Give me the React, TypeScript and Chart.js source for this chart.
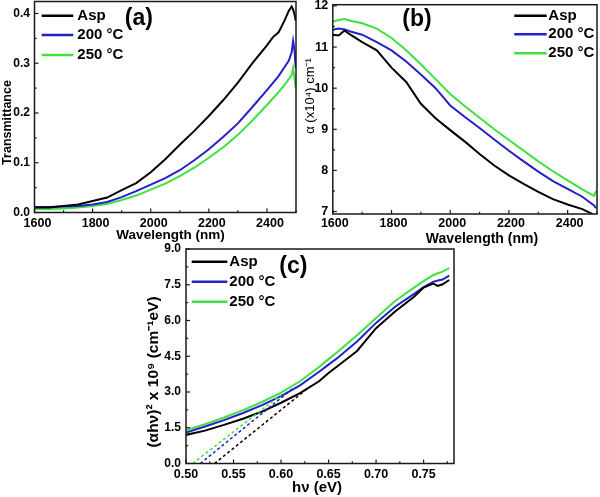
import { useEffect, useRef } from 'react';
import { Chart, registerables } from 'chart.js';

Chart.register(...registerables);

const FONT = '"Liberation Sans", Arial, Helvetica, sans-serif';
const SERIES = ['Asp', '200 °C', '250 °C'];
const COLORS = ['#000000', '#2222c8', '#3fe03f'];

// ---------- (a) Transmittance vs wavelength ----------
const aWavelength = [1600, 1650, 1700, 1750, 1800, 1850, 1900, 1950, 2000, 2050, 2100, 2150, 2200, 2250, 2300, 2350, 2400, 2420, 2440, 2460, 2475, 2485, 2490, 2495, 2499];
const aAsp = [0.010, 0.010, 0.013, 0.016, 0.023, 0.030, 0.045, 0.059, 0.081, 0.107, 0.136, 0.164, 0.194, 0.226, 0.261, 0.300, 0.336, 0.352, 0.362, 0.385, 0.405, 0.414, 0.408, 0.398, 0.385];
const a200 = [0.011, 0.011, 0.012, 0.013, 0.016, 0.021, 0.031, 0.043, 0.056, 0.069, 0.085, 0.105, 0.127, 0.152, 0.179, 0.212, 0.246, 0.260, 0.274, 0.292, 0.305, 0.322, 0.345, 0.325, 0.290];
const a250 = [0.007, 0.007, 0.008, 0.010, 0.013, 0.017, 0.025, 0.034, 0.046, 0.058, 0.073, 0.090, 0.110, 0.131, 0.156, 0.185, 0.216, 0.229, 0.242, 0.256, 0.268, 0.276, 0.290, 0.270, 0.250];

// ---------- (b) Absorption coefficient vs wavelength ----------
const bWavelength = [1600, 1620, 1640, 1660, 1700, 1750, 1800, 1850, 1900, 1950, 2000, 2050, 2100, 2150, 2200, 2250, 2300, 2350, 2400, 2450, 2490, 2497];
const bAsp = [11.30, 11.28, 11.40, 11.30, 11.12, 10.92, 10.50, 10.15, 9.62, 9.27, 8.98, 8.70, 8.40, 8.12, 7.88, 7.67, 7.48, 7.30, 7.17, 7.06, 6.92, 6.88];
const b200 = [11.42, 11.45, 11.43, 11.38, 11.30, 11.12, 10.92, 10.65, 10.33, 10.00, 9.58, 9.30, 9.03, 8.75, 8.48, 8.22, 7.97, 7.74, 7.55, 7.36, 7.15, 7.08];
const b250 = [11.62, 11.66, 11.68, 11.64, 11.58, 11.45, 11.22, 10.92, 10.58, 10.22, 9.86, 9.56, 9.28, 9.00, 8.74, 8.48, 8.22, 7.98, 7.76, 7.54, 7.38, 7.50];

// ---------- (c) Tauc plot ----------
const cEnergy = [0.50, 0.52, 0.54, 0.56, 0.58, 0.60, 0.62, 0.64, 0.65, 0.66, 0.68, 0.70, 0.72, 0.74, 0.75, 0.76, 0.765, 0.77, 0.777];
const cAsp = [1.20, 1.38, 1.62, 1.88, 2.18, 2.55, 2.95, 3.45, 3.80, 4.10, 4.72, 5.68, 6.38, 7.00, 7.38, 7.55, 7.45, 7.52, 7.70];
const c200 = [1.30, 1.55, 1.82, 2.12, 2.45, 2.83, 3.28, 3.85, 4.15, 4.45, 5.12, 5.90, 6.58, 7.12, 7.40, 7.62, 7.68, 7.72, 7.88];
const c250 = [1.40, 1.65, 1.93, 2.24, 2.58, 2.97, 3.45, 4.05, 4.38, 4.70, 5.38, 6.10, 6.82, 7.38, 7.65, 7.90, 7.98, 8.05, 8.20];
// linear extrapolations (dashed)
const cFitAspX = [0.530, 0.628];
const cFitAspY = [0, 3.15];
const cFit200X = [0.515, 0.614];
const cFit200Y = [0, 3.20];
const cFit250X = [0.507, 0.603];
const cFit250Y = [0, 2.97];

const zip = (xs: number[], ys: number[]) => xs.map((x, i) => ({ x, y: ys[i] }));

const solid = (i: number, xs: number[], ys: number[]) => ({
  label: SERIES[i],
  data: zip(xs, ys),
  borderColor: COLORS[i],
  borderWidth: 2,
  pointRadius: 0,
  tension: 0,
  fill: false,
  legend: true,
});
const dashed = (i: number, xs: number[], ys: number[]) => ({
  label: SERIES[i] + ' fit',
  data: zip(xs, ys),
  borderColor: COLORS[i],
  borderWidth: 1.5,
  borderDash: [3, 2.5],
  pointRadius: 0,
  tension: 0,
  fill: false,
  legend: false,
});

type AxisCfg = { min: number; max: number; major: number; minor: number; decimals: number; size: number; pad: number; box: number; labelOffset?: number };
type TitleCfg = { text: string; x: number; y: number; rot: boolean; size: number; bold: boolean };
type PanelCfg = {
  id: string; left: number; top: number; w: number; h: number;
  padding: { left: number; top: number; right: number; bottom: number };
  x: AxisCfg; y: AxisCfg; datasets: any[];
  legend: { x1: number; x2: number; tx: number; rows: number[] };
  tag: { text: string; x: number; y: number };
  titles: TitleCfg[];
};

const PANELS: PanelCfg[] = [
  {
    id: 'a', left: 0, top: 0, w: 300, h: 250,
    padding: { left: 0, top: 1.5, right: 4, bottom: 0 },
    x: { min: 1600, max: 2500, major: 200, minor: 100, decimals: 0, size: 12.5, pad: 3.4, box: 37.5, labelOffset: 3 },
    y: { min: 0, max: 0.424, major: 0.1, minor: 0.05, decimals: 1, size: 12, pad: 4.5, box: 34.5 },
    datasets: [solid(0, aWavelength, aAsp), solid(1, aWavelength, a200), solid(2, aWavelength, a250)],
    legend: { x1: 41.7, x2: 73.3, tx: 77.3, rows: [15.7, 35, 55] },
    tag: { text: '(a)', x: 138.8, y: 18.8 },
    titles: [
      { text: 'Wavelength (nm)', x: 170.5, y: 235.5, rot: false, size: 13.5, bold: true },
      { text: 'Transmittance', x: 7.5, y: 122.5, rot: true, size: 12.5, bold: true },
    ],
  },
  {
    id: 'b', left: 300, top: 0, w: 300, h: 250,
    padding: { left: 0, top: 4.7, right: 3, bottom: 0 },
    x: { min: 1600, max: 2500, major: 200, minor: 100, decimals: 0, size: 12.5, pad: 2, box: 36, labelOffset: 2 },
    y: { min: 6.94, max: 12.03, major: 1, minor: 0.5, decimals: 0, size: 12.5, pad: 4.5, box: 32.8 },
    datasets: [solid(0, bWavelength, bAsp), solid(1, bWavelength, b200), solid(2, bWavelength, b250)],
    legend: { x1: 214.3, x2: 246.7, tx: 248.3, rows: [15.7, 34.3, 53.3] },
    tag: { text: '(b)', x: 117, y: 20 },
    titles: [
      { text: 'Wavelength (nm)', x: 182, y: 239, rot: false, size: 14, bold: true },
      { text: 'α (x10⁴) cm⁻¹', x: 10, y: 96, rot: true, size: 13, bold: false },
    ],
  },
  {
    id: 'c', left: 140, top: 240, w: 320, h: 257,
    padding: { left: 0, top: 9, right: 6, bottom: 0 },
    x: { min: 0.5, max: 0.782, major: 0.05, minor: 0.025, decimals: 2, size: 12.5, pad: 4, box: 33.5 },
    y: { min: 0, max: 9, major: 1.5, minor: 0.75, decimals: 1, size: 12, pad: 5, box: 46 },
    datasets: [
      dashed(0, cFitAspX, cFitAspY), dashed(1, cFit200X, cFit200Y), dashed(2, cFit250X, cFit250Y),
      solid(0, cEnergy, cAsp), solid(1, cEnergy, c200), solid(2, cEnergy, c250),
    ],
    legend: { x1: 51.7, x2: 87.3, tx: 89.3, rows: [21.7, 41.7, 61.7] },
    tag: { text: '(c)', x: 153.3, y: 26.7 },
    titles: [
      { text: 'hν (eV)', x: 177, y: 248, rot: false, size: 15, bold: true },
      { text: '(αhν)² x 10⁹ (cm⁻¹eV)', x: 13.3, y: 132, rot: true, size: 15.5, bold: true },
    ],
  },
];

function axisOptions(a: AxisCfg, horizontal: boolean) {
  return {
    type: 'linear',
    min: a.min,
    max: a.max,
    grid: { display: false, drawTicks: false },
    border: { display: false },
    title: { display: false },
    ticks: {
      stepSize: a.major,
      includeBounds: false,
      autoSkip: false,
      maxRotation: 0,
      minRotation: 0,
      padding: a.pad,
      labelOffset: a.labelOffset || 0,
      color: '#000',
      font: { family: FONT, size: a.size, weight: 'bold' },
      callback: (v: any) => Number(v).toFixed(a.decimals),
    },
    afterFit: (s: any) => {
      if (horizontal) {
        s.height = a.box;
        s.paddingLeft = 0;
        s.paddingRight = 0;
      } else {
        s.width = a.box;
        s.paddingTop = 0;
        s.paddingBottom = 0;
      }
    },
  };
}

function drawTicks(ctx: CanvasRenderingContext2D, scale: any, a: AxisCfg, ca: any, horizontal: boolean) {
  const start = Math.ceil(a.min / a.minor - 1e-9);
  const end = Math.floor(a.max / a.minor + 1e-9);
  for (let i = start; i <= end; i++) {
    const v = i * a.minor;
    const r = v / a.major;
    const major = Math.abs(r - Math.round(r)) < 1e-6;
    const len = major ? 4 : 2.2;
    const p = scale.getPixelForValue(v);
    ctx.beginPath();
    if (horizontal) {
      ctx.moveTo(p, ca.bottom);
      ctx.lineTo(p, ca.bottom - len);
    } else {
      ctx.moveTo(ca.left, p);
      ctx.lineTo(ca.left + len, p);
    }
    ctx.stroke();
  }
}

function decor(p: PanelCfg) {
  return {
    id: 'decor' + p.id,
    afterDatasetsDraw(chart: any) {
      const { ctx, chartArea: ca, scales } = chart;
      ctx.save();
      ctx.strokeStyle = '#1a1a1a';
      ctx.lineWidth = 1.5;
      ctx.strokeRect(ca.left, ca.top, ca.right - ca.left, ca.bottom - ca.top);
      ctx.lineWidth = 1.2;
      drawTicks(ctx, scales.x, p.x, ca, true);
      drawTicks(ctx, scales.y, p.y, ca, false);

      // legend from datasets
      const entries = chart.data.datasets.filter((d: any) => d.legend);
      ctx.font = `bold 15px ${FONT}`;
      ctx.textBaseline = 'middle';
      ctx.textAlign = 'left';
      entries.forEach((d: any, i: number) => {
        const y = p.legend.rows[i];
        ctx.strokeStyle = d.borderColor;
        ctx.lineWidth = 2.5;
        ctx.beginPath();
        ctx.moveTo(p.legend.x1, y);
        ctx.lineTo(p.legend.x2, y);
        ctx.stroke();
        ctx.fillStyle = '#000';
        ctx.fillText(d.label, p.legend.tx, y);
      });

      // panel tag
      ctx.font = `bold 23px ${FONT}`;
      ctx.textAlign = 'center';
      ctx.fillStyle = '#000';
      ctx.fillText(p.tag.text, p.tag.x, p.tag.y);

      // axis titles
      p.titles.forEach((t) => {
        ctx.save();
        ctx.font = `${t.bold ? 'bold ' : ''}${t.size}px ${FONT}`;
        ctx.textAlign = 'center';
        ctx.textBaseline = 'middle';
        ctx.translate(t.x, t.y);
        if (t.rot) ctx.rotate(-Math.PI / 2);
        ctx.fillText(t.text, 0, 0);
        ctx.restore();
      });
      ctx.restore();
    },
  };
}

function Panel({ p }: { p: PanelCfg }) {
  const ref = useRef<HTMLCanvasElement>(null);
  useEffect(() => {
    const chart = new Chart(ref.current as HTMLCanvasElement, {
      type: 'line',
      data: { datasets: p.datasets },
      options: {
        responsive: false,
        maintainAspectRatio: false,
        animation: false,
        events: [],
        layout: { padding: p.padding, autoPadding: false },
        plugins: { legend: { display: false }, tooltip: { enabled: false }, title: { display: false } },
        scales: { x: axisOptions(p.x, true), y: axisOptions(p.y, false) },
      } as any,
      plugins: [decor(p)],
    } as any);
    return () => chart.destroy();
  }, [p]);
  return (
    <canvas
      ref={ref}
      width={p.w}
      height={p.h}
      style={{ position: 'absolute', left: p.left, top: p.top, width: p.w, height: p.h }}
    />
  );
}

export default function App() {
  return (
    <div style={{ position: 'fixed', left: 0, top: 0, width: 600, height: 497, background: '#ffffff', overflow: 'hidden' }}>
      {PANELS.map((p) => (
        <Panel key={p.id} p={p} />
      ))}
    </div>
  );
}
